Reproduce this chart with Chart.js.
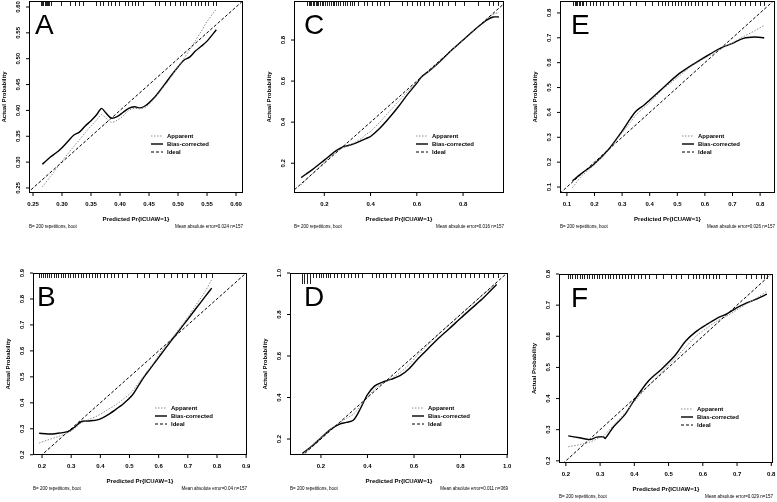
<!DOCTYPE html>
<html>
<head>
<meta charset="utf-8">
<script src="https://cdn.jsdelivr.net/npm/chart.js@4.4.1/dist/chart.umd.min.js"></script>
<style>
  html, body { margin: 0; padding: 0; background: #fff; }
  body { width: 777px; height: 502px; position: relative; overflow: hidden; }
  canvas { position: absolute; }
</style>
</head>
<body>
<canvas id="panelA"></canvas>
<canvas id="panelB"></canvas>
<canvas id="panelC"></canvas>
<canvas id="panelD"></canvas>
<canvas id="panelE"></canvas>
<canvas id="panelF"></canvas>
<script>
// общие подписи
const seriesLabels = ['Apparent', 'Bias-corrected', 'Ideal'];
const xTitle = 'Predicted Pr{ICUAW=1}';
const yTitle = 'Actual Probability';
const footLeft = 'B= 200 repetitions, boot';

// панель A
const aPred     = [0.266, 0.28, 0.29, 0.30, 0.31, 0.32, 0.33, 0.34, 0.35, 0.36, 0.368, 0.375, 0.385, 0.395, 0.405, 0.415, 0.425, 0.435, 0.445, 0.46, 0.47, 0.48, 0.49, 0.50, 0.51, 0.52, 0.53, 0.54, 0.55, 0.566];
const aApparent = [0.252, 0.272, 0.287, 0.302, 0.316, 0.33, 0.343, 0.357, 0.37, 0.382, 0.392, 0.386, 0.377, 0.381, 0.389, 0.4, 0.404, 0.403, 0.407, 0.424, 0.438, 0.452, 0.468, 0.485, 0.5, 0.517, 0.535, 0.553, 0.572, 0.596];
const aBias     = [0.296, 0.31, 0.318, 0.328, 0.34, 0.352, 0.358, 0.37, 0.38, 0.392, 0.404, 0.396, 0.385, 0.388, 0.396, 0.404, 0.407, 0.405, 0.41, 0.426, 0.44, 0.455, 0.47, 0.484, 0.497, 0.503, 0.515, 0.524, 0.534, 0.556];
const aRug = [0.264, 0.266, 0.268, 0.27, 0.272, 0.274, 0.276, 0.278, 0.281, 0.299, 0.313, 0.322, 0.33, 0.336, 0.359, 0.365, 0.371, 0.379, 0.385, 0.391, 0.399, 0.408, 0.414, 0.42, 0.425, 0.431, 0.44, 0.46, 0.468, 0.477, 0.486, 0.494, 0.503, 0.509, 0.514, 0.523, 0.529, 0.534, 0.54, 0.546, 0.552, 0.56, 0.566];
const aXTicks = ['0.25', '0.30', '0.35', '0.40', '0.45', '0.50', '0.55', '0.60'];
const aYTicks = ['0.25', '0.30', '0.35', '0.40', '0.45', '0.50', '0.55', '0.60'];

// панель C
const cPred     = [0.1, 0.15, 0.2, 0.25, 0.28, 0.30, 0.33, 0.36, 0.38, 0.40, 0.44, 0.48, 0.52, 0.56, 0.60, 0.62, 0.66, 0.70, 0.75, 0.80, 0.85, 0.90, 0.93, 0.955];
const cApparent = [0.095, 0.15, 0.205, 0.255, 0.275, 0.282, 0.30, 0.32, 0.34, 0.355, 0.40, 0.45, 0.50, 0.55, 0.595, 0.62, 0.655, 0.695, 0.75, 0.80, 0.85, 0.90, 0.925, 0.935];
const cBias     = [0.13, 0.17, 0.215, 0.26, 0.28, 0.285, 0.295, 0.31, 0.32, 0.33, 0.37, 0.42, 0.475, 0.535, 0.59, 0.62, 0.655, 0.695, 0.75, 0.80, 0.85, 0.895, 0.912, 0.912];
const cRug = [0.126, 0.132, 0.138, 0.144, 0.15, 0.156, 0.162, 0.168, 0.174, 0.18, 0.188, 0.196, 0.204, 0.212, 0.22, 0.228, 0.236, 0.244, 0.252, 0.26, 0.27, 0.28, 0.29, 0.3, 0.31, 0.32, 0.33, 0.345, 0.37, 0.384, 0.406, 0.427, 0.442, 0.456, 0.478, 0.535, 0.557, 0.578, 0.6, 0.614, 0.629, 0.651, 0.672, 0.694, 0.708, 0.737, 0.765, 0.802, 0.866, 0.91, 0.931, 0.953];
const cXTicks = ['0.2', '0.4', '0.6', '0.8'];
const cYTicks = ['0.2', '0.4', '0.6', '0.8'];

// панель E
const ePred     = [0.12, 0.15, 0.2, 0.25, 0.3, 0.33, 0.35, 0.38, 0.4, 0.45, 0.5, 0.55, 0.6, 0.65, 0.7, 0.74, 0.78, 0.815];
const eApparent = [0.097, 0.14, 0.19, 0.247, 0.318, 0.36, 0.39, 0.42, 0.44, 0.495, 0.54, 0.585, 0.618, 0.65, 0.68, 0.705, 0.728, 0.75];
const eBias     = [0.125, 0.152, 0.194, 0.25, 0.325, 0.375, 0.405, 0.43, 0.45, 0.5, 0.55, 0.588, 0.622, 0.655, 0.678, 0.698, 0.703, 0.70];
const eRug = [0.123, 0.128, 0.133, 0.138, 0.143, 0.148, 0.153, 0.159, 0.171, 0.183, 0.195, 0.207, 0.22, 0.232, 0.25, 0.268, 0.286, 0.304, 0.328, 0.352, 0.383, 0.407, 0.431, 0.443, 0.455, 0.467, 0.479, 0.491, 0.503, 0.515, 0.528, 0.54, 0.551, 0.564, 0.576, 0.588, 0.606, 0.624, 0.648, 0.672, 0.691, 0.709, 0.727, 0.745, 0.763, 0.781, 0.799, 0.815];
const eXTicks = ['0.1', '0.2', '0.3', '0.4', '0.5', '0.6', '0.7', '0.8'];
const eYTicks = ['0.1', '0.2', '0.3', '0.4', '0.5', '0.6', '0.7', '0.8'];

// панель B
const bPred     = [0.19, 0.22, 0.25, 0.29, 0.31, 0.335, 0.36, 0.39, 0.42, 0.45, 0.48, 0.51, 0.53, 0.55, 0.57, 0.59, 0.61, 0.64, 0.67, 0.70, 0.73, 0.76, 0.782];
const bApparent = [0.245, 0.257, 0.268, 0.285, 0.3, 0.323, 0.335, 0.35, 0.37, 0.39, 0.415, 0.445, 0.475, 0.505, 0.535, 0.565, 0.6, 0.64, 0.685, 0.73, 0.78, 0.83, 0.875];
const bBias     = [0.283, 0.28, 0.282, 0.29, 0.305, 0.328, 0.33, 0.334, 0.35, 0.372, 0.397, 0.43, 0.465, 0.5, 0.53, 0.56, 0.59, 0.635, 0.678, 0.722, 0.766, 0.81, 0.842];
const bRug = [0.19, 0.197, 0.204, 0.211, 0.218, 0.225, 0.232, 0.24, 0.248, 0.256, 0.264, 0.272, 0.28, 0.288, 0.296, 0.305, 0.314, 0.323, 0.332, 0.341, 0.35, 0.36, 0.37, 0.38, 0.39, 0.40, 0.412, 0.424, 0.436, 0.448, 0.46, 0.475, 0.49, 0.526, 0.549, 0.566, 0.595, 0.618, 0.641, 0.664, 0.681, 0.698, 0.721, 0.744, 0.761, 0.784];
const bXTicks = ['0.2', '0.3', '0.4', '0.5', '0.6', '0.7', '0.8', '0.9'];
const bYTicks = ['0.2', '0.3', '0.4', '0.5', '0.6', '0.7', '0.8', '0.9'];

// панель D
const dPred     = [0.12, 0.16, 0.2, 0.24, 0.28, 0.31, 0.34, 0.37, 0.4, 0.43, 0.46, 0.5, 0.54, 0.58, 0.62, 0.66, 0.7, 0.75, 0.8, 0.85, 0.9, 0.955];
const dApparent = [0.125, 0.165, 0.205, 0.245, 0.28, 0.30, 0.32, 0.36, 0.40, 0.44, 0.465, 0.49, 0.52, 0.56, 0.61, 0.655, 0.70, 0.75, 0.80, 0.85, 0.90, 0.95];
const dBias     = [0.13, 0.165, 0.205, 0.245, 0.272, 0.28, 0.292, 0.347, 0.414, 0.455, 0.472, 0.487, 0.505, 0.54, 0.59, 0.635, 0.68, 0.73, 0.782, 0.832, 0.882, 0.945];
const dRugLong = [0.117, 0.128, 0.14, 0.152];
const dRug = [0.165, 0.178, 0.19, 0.2, 0.21, 0.22, 0.23, 0.24, 0.255, 0.27, 0.285, 0.3, 0.315, 0.33, 0.345, 0.36, 0.375, 0.42, 0.435, 0.45, 0.465, 0.48, 0.5, 0.52, 0.54, 0.56, 0.58, 0.6, 0.62, 0.64, 0.66, 0.68, 0.70, 0.72, 0.74, 0.76, 0.78, 0.80, 0.82, 0.84, 0.86, 0.88, 0.9, 0.92, 0.94, 0.96];
const dXTicks = ['0.2', '0.4', '0.6', '0.8', '1.0'];
const dYTicks = ['0.2', '0.4', '0.6', '0.8', '1.0'];

// панель F
const fPred     = [0.207, 0.24, 0.27, 0.29, 0.31, 0.315, 0.34, 0.37, 0.4, 0.44, 0.48, 0.52, 0.55, 0.58, 0.61, 0.64, 0.67, 0.7, 0.73, 0.76, 0.787];
const fApparent = [0.245, 0.252, 0.26, 0.27, 0.28, 0.285, 0.315, 0.35, 0.39, 0.44, 0.485, 0.53, 0.565, 0.6, 0.625, 0.648, 0.665, 0.685, 0.705, 0.725, 0.745];
const fBias     = [0.28, 0.274, 0.268, 0.276, 0.277, 0.272, 0.31, 0.345, 0.395, 0.455, 0.495, 0.54, 0.585, 0.615, 0.637, 0.657, 0.672, 0.692, 0.708, 0.721, 0.735];
const fRug = [0.205, 0.212, 0.219, 0.226, 0.233, 0.24, 0.247, 0.254, 0.261, 0.268, 0.275, 0.282, 0.29, 0.298, 0.306, 0.314, 0.322, 0.33, 0.338, 0.346, 0.355, 0.364, 0.373, 0.382, 0.391, 0.40, 0.41, 0.42, 0.43, 0.443, 0.463, 0.483, 0.507, 0.522, 0.536, 0.556, 0.57, 0.58, 0.59, 0.6, 0.609, 0.619, 0.629, 0.639, 0.648, 0.668, 0.697, 0.726, 0.741, 0.756, 0.77, 0.78, 0.787];
const fXTicks = ['0.2', '0.3', '0.4', '0.5', '0.6', '0.7', '0.8'];
const fYTicks = ['0.2', '0.3', '0.4', '0.5', '0.6', '0.7', '0.8'];

const FONT = '"Liberation Sans", Arial, sans-serif';

function toPoints(xs, ys) {
    return xs.map((x, i) => ({ x: x, y: ys[i] }));
}

// рамка, засечки, подписи, легенда, "rug" сверху
function framePlugin(p) {
    return {
        id: 'frame' + p.letter,
        afterDatasetsDraw(chart) {
            const ctx = chart.ctx;
            const a = chart.chartArea;
            const sx = chart.scales.x;
            const sy = chart.scales.y;
            ctx.save();
            ctx.strokeStyle = '#000';
            ctx.fillStyle = '#000';
            ctx.setLineDash([]);

            // rug
            ctx.lineWidth = 1;
            ctx.strokeStyle = '#222';
            p.rug.forEach(v => {
                const px = Math.round(sx.getPixelForValue(v)) + 0.5;
                ctx.beginPath();
                ctx.moveTo(px, a.top);
                ctx.lineTo(px, a.top + 5);
                ctx.stroke();
            });
            (p.rugLong || []).forEach(v => {
                const px = Math.round(sx.getPixelForValue(v)) + 0.5;
                ctx.beginPath();
                ctx.moveTo(px, a.top);
                ctx.lineTo(px, a.top + 11);
                ctx.stroke();
            });
            ctx.strokeStyle = '#000';

            // рамка
            ctx.lineWidth = 1;
            ctx.strokeRect(a.left + 0.5, a.top + 0.5, a.right - a.left - 1, a.bottom - a.top - 1);

            // ось X
            ctx.font = 'bold 6px ' + FONT;
            ctx.textAlign = 'center';
            ctx.textBaseline = 'middle';
            p.xTicks.forEach(t => {
                const px = sx.getPixelForValue(parseFloat(t));
                ctx.beginPath();
                ctx.moveTo(px, a.bottom);
                ctx.lineTo(px, a.bottom + 3);
                ctx.stroke();
                ctx.fillText(t, px, a.bottom + 11);
            });
            // ось Y (подписи повернуты, как в R)
            p.yTicks.forEach(t => {
                const py = sy.getPixelForValue(parseFloat(t));
                ctx.beginPath();
                ctx.moveTo(a.left - 3, py);
                ctx.lineTo(a.left, py);
                ctx.stroke();
                ctx.save();
                ctx.translate(a.left - 11, py);
                ctx.rotate(-Math.PI / 2);
                ctx.fillText(t, 0, 0);
                ctx.restore();
            });

            // заголовки осей
            ctx.font = 'bold 6px ' + FONT;
            ctx.fillText(xTitle, (a.left + a.right) / 2, a.bottom + 26);
            ctx.save();
            ctx.translate(a.left - 25, (a.top + a.bottom) / 2);
            ctx.rotate(-Math.PI / 2);
            ctx.fillText(yTitle, 0, 0);
            ctx.restore();

            // сноски
            ctx.font = '4.5px ' + FONT;
            ctx.textAlign = 'left';
            ctx.fillText(footLeft, a.left, a.bottom + 34);
            ctx.textAlign = 'right';
            ctx.fillText(p.foot, a.right, a.bottom + 34);

            // легенда
            const lx = a.left + 122;
            const ly = a.top + 135;
            const styles = chart.data.datasets;
            ctx.font = 'bold 6px ' + FONT;
            ctx.textAlign = 'left';
            seriesLabels.forEach((lab, i) => {
                const ds = styles.find(d => d.label === lab);
                const y = ly + i * 8;
                ctx.strokeStyle = ds.borderColor;
                ctx.lineWidth = ds.borderWidth;
                ctx.setLineDash(ds.borderDash || []);
                ctx.beginPath();
                ctx.moveTo(lx, y);
                ctx.lineTo(lx + 12, y);
                ctx.stroke();
                ctx.setLineDash([]);
                ctx.fillText(lab, lx + 16, y);
            });

            // буква панели
            ctx.font = '28px ' + FONT;
            ctx.textBaseline = 'alphabetic';
            ctx.textAlign = 'left';
            ctx.fillText(p.letter, a.left + p.letterDx, a.top + 33);
            ctx.restore();
        }
    };
}

function makePanel(id, p) {
    const canvas = document.getElementById(id);
    const padL = 32, padT = 9, padR = 3, padB = 40;
    const w = p.box[2] - p.box[0] + padL + padR;
    const h = p.box[3] - p.box[1] + padT + padB;
    canvas.width = w;
    canvas.height = h;
    canvas.style.left = (p.box[0] - padL) + 'px';
    canvas.style.top = (p.box[1] - padT) + 'px';
    canvas.style.width = w + 'px';
    canvas.style.height = h + 'px';

    const lo = Math.min(p.xr[0], p.yr[0]);
    const hi = Math.max(p.xr[1], p.yr[1]);

    return new Chart(canvas.getContext('2d'), {
        type: 'line',
        data: {
            datasets: [
                {
                    label: 'Ideal',
                    data: [{ x: lo, y: lo }, { x: hi, y: hi }],
                    borderColor: '#000',
                    borderWidth: 1,
                    borderDash: [3, 2],
                    pointRadius: 0,
                    tension: 0
                },
                {
                    label: 'Apparent',
                    data: toPoints(p.pred, p.apparent),
                    borderColor: '#8c8c8c',
                    borderWidth: 1,
                    borderDash: [1.5, 1.5],
                    pointRadius: 0,
                    tension: 0.3
                },
                {
                    label: 'Bias-corrected',
                    data: toPoints(p.pred, p.bias),
                    borderColor: '#000',
                    borderWidth: 1.4,
                    pointRadius: 0,
                    tension: 0.3
                }
            ]
        },
        options: {
            responsive: false,
            animation: false,
            events: [],
            layout: { padding: { left: padL, top: padT, right: padR, bottom: padB } },
            plugins: {
                legend: { display: false },
                tooltip: { enabled: false }
            },
            scales: {
                x: { type: 'linear', display: false, min: p.xr[0], max: p.xr[1] },
                y: { type: 'linear', display: false, min: p.yr[0], max: p.yr[1] }
            }
        },
        plugins: [framePlugin(p)]
    });
}

makePanel('panelA', {
    letter: 'A', letterDx: 6, box: [29, 1, 243, 193],
    xr: [0.2431, 0.612], yr: [0.2403, 0.6116],
    pred: aPred, apparent: aApparent, bias: aBias, rug: aRug,
    xTicks: aXTicks, yTicks: aYTicks,
    foot: 'Mean absolute error=0.024 n=157'
});
makePanel('panelC', {
    letter: 'C', letterDx: 10, box: [294, 1, 504, 193],
    xr: [0.069, 0.977], yr: [0.055, 0.99],
    pred: cPred, apparent: cApparent, bias: cBias, rug: cRug,
    xTicks: cXTicks, yTicks: cYTicks,
    foot: 'Mean absolute error=0.016 n=157'
});
makePanel('panelE', {
    letter: 'E', letterDx: 11, box: [560, 1, 775, 193],
    xr: [0.075, 0.854], yr: [0.076, 0.848],
    pred: ePred, apparent: eApparent, bias: eBias, rug: eRug,
    xTicks: eXTicks, yTicks: eYTicks,
    foot: 'Mean absolute error=0.026 n=157'
});
makePanel('panelB', {
    letter: 'B', letterDx: 4, box: [33, 273, 247, 455],
    xr: [0.169, 0.903], yr: [0.199, 0.9],
    pred: bPred, apparent: bApparent, bias: bBias, rug: bRug,
    xTicks: bXTicks, yTicks: bYTicks,
    foot: 'Mean absolute error=0.04 n=157'
});
makePanel('panelD', {
    letter: 'D', letterDx: 14, box: [290, 273, 508, 455],
    xr: [0.067, 1.004], yr: [0.123, 1.0],
    pred: dPred, apparent: dApparent, bias: dBias, rug: dRug, rugLong: dRugLong,
    xTicks: dXTicks, yTicks: dYTicks,
    foot: 'Mean absolute error=0.011 n=369'
});
makePanel('panelF', {
    letter: 'F', letterDx: 12, box: [559, 274, 773, 463],
    xr: [0.18, 0.805], yr: [0.193, 0.8],
    pred: fPred, apparent: fApparent, bias: fBias, rug: fRug,
    xTicks: fXTicks, yTicks: fYTicks,
    foot: 'Mean absolute error=0.029 n=157'
});
</script>
</body>
</html>
